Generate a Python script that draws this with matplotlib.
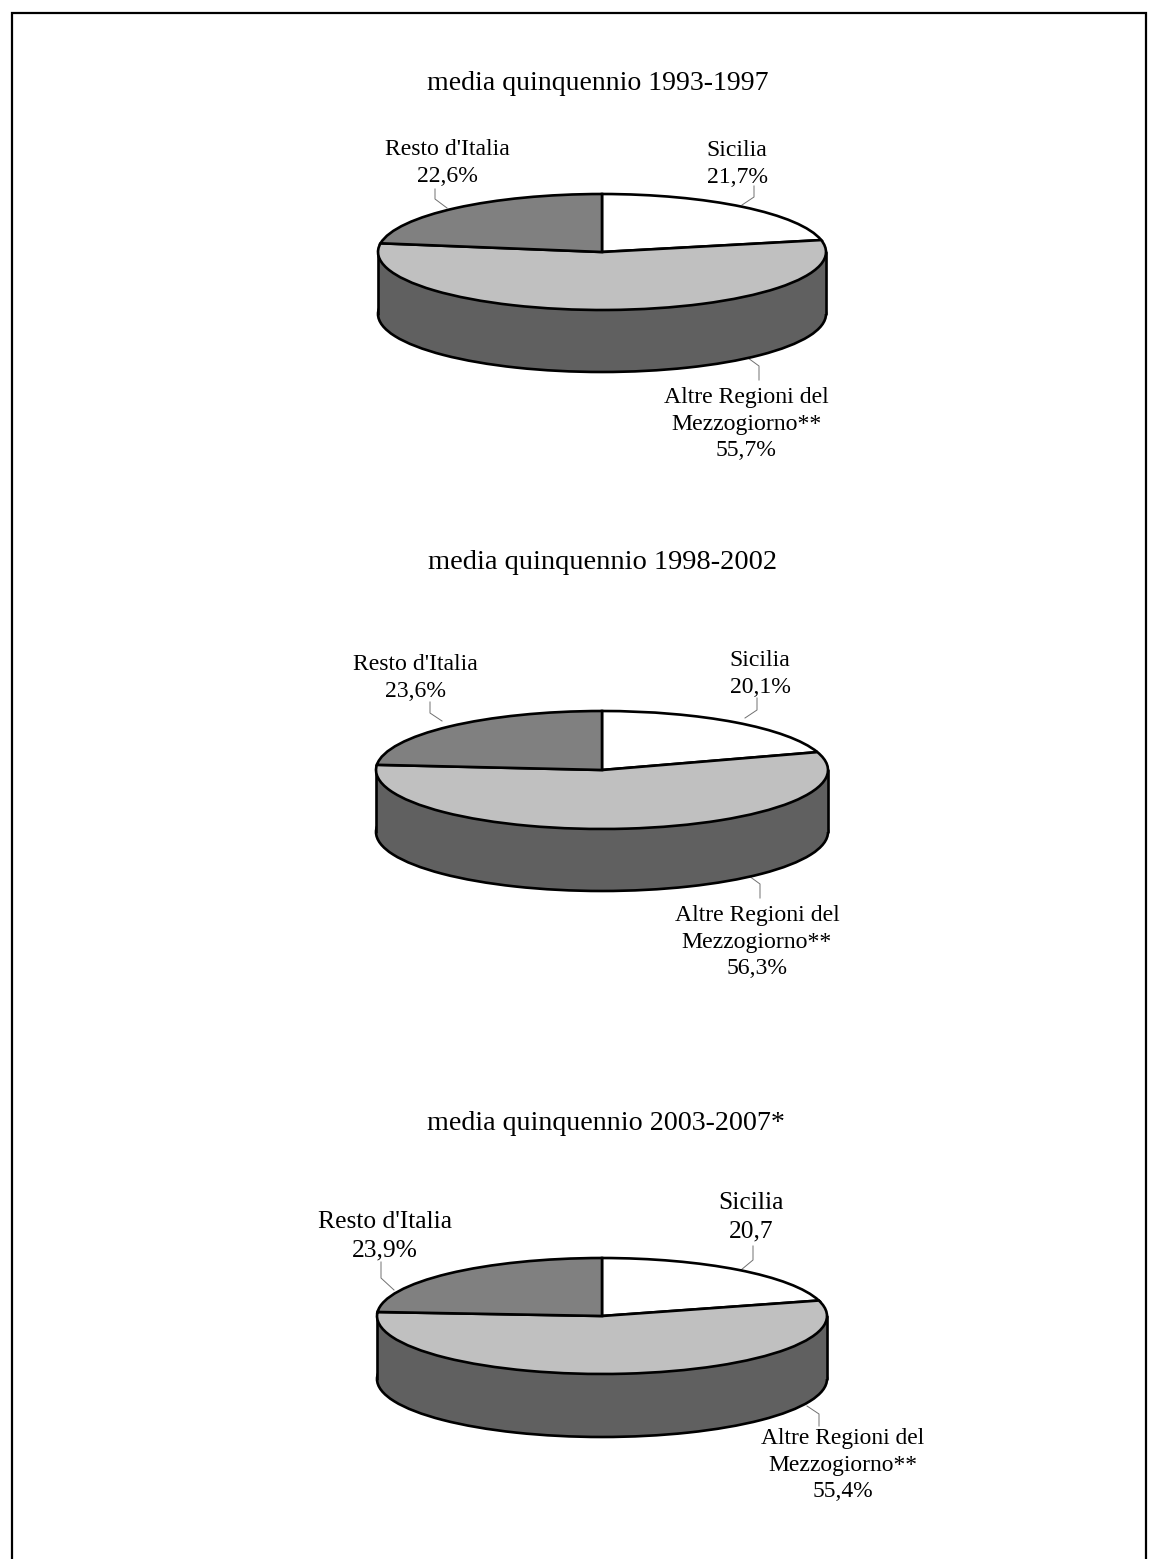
import matplotlib
matplotlib.use("Agg")
import matplotlib.pyplot as plt

plt.rcParams['font.family'] = ['Liberation Serif', 'DejaVu Serif']

W, H = 1158, 1559

# data
titles = ["media quinquennio 1993-1997", "media quinquennio 1998-2002", "media quinquennio 2003-2007*"]
sicilia = [21.7, 20.1, 20.7]
altre = [55.7, 56.3, 55.4]
resto = [22.6, 23.6, 23.9]
sicilia_labels = ["Sicilia\n21,7%", "Sicilia\n20,1%", "Sicilia\n20,7"]
altre_labels = ["Altre Regioni del\nMezzogiorno**\n55,7%", "Altre Regioni del\nMezzogiorno**\n56,3%", "Altre Regioni del\nMezzogiorno**\n55,4%"]
resto_labels = ["Resto d'Italia\n22,6%", "Resto d'Italia\n23,6%", "Resto d'Italia\n23,9%"]

slice_colors = ['#ffffff', '#c0c0c0', '#808080']
side_color = '#606060'
line_w = 1.9

# layout, in pixels of the page
pie_geom = [(602, 252, 224, 58, 62), (602, 770, 226, 59, 62), (602, 1316, 225, 58, 63)]
title_pos = [(598, 83), (603, 562), (606, 1123)]
title_fs = [20.0, 20.5, 20.2]
sic_pos = [(737, 164), (760, 674), (751, 1217)]
res_pos = [(447, 163), (415, 678), (385, 1236)]
alt_pos = [(746, 424), (757, 942), (843, 1465)]
sic_lead = [[(754, 186), (754, 197), (742, 205)], [(757, 698), (757, 710), (745, 718)], [(753, 1246), (753, 1260), (741, 1270)]]
res_lead = [[(435, 189), (435, 199), (447, 208)], [(430, 702), (430, 713), (442, 721)], [(381, 1262), (381, 1278), (394, 1290)]]
alt_lead = [[(759, 380), (759, 366), (748, 358)], [(760, 898), (760, 884), (749, 876)], [(819, 1426), (819, 1414), (807, 1406)]]
label_fs = [17.1, 17.1, 18.4]
altre_fs = [17.1, 17.1, 16.9]
spacing = 1.36

fig = plt.figure(figsize=(W / 100, H / 100), dpi=100, facecolor='white')

page = fig.add_axes([0, 0, 1, 1])
page.set_xlim(0, W)
page.set_ylim(H, 0)
page.axis('off')

# page frame
page.plot([12, 12, 1146, 1146], [H, 13, 13, H], color='black', lw=1.6, solid_joinstyle='miter', clip_on=False)

for i, (cx, cy, rx, ry, depth) in enumerate(pie_geom):
    d = depth / ry
    ax = fig.add_axes([(cx - rx) / W, 1 - (cy + ry + depth) / H, 2 * rx / W, (2 * ry + depth) / H])
    edge = dict(edgecolor='black', linewidth=line_w)
    # lower rim of the disc
    ax.pie([1], radius=1, center=(0, -d), colors=[side_color], wedgeprops=dict(linewidth=line_w, edgecolor='black'), frame=True)
    ax.fill_between([-1, 1], -d, 0, color=side_color, lw=0, zorder=1.5)
    ax.plot([-1, -1], [-d, 0], color='black', lw=line_w, zorder=1.6, clip_on=False, solid_capstyle='round')
    ax.plot([1, 1], [-d, 0], color='black', lw=line_w, zorder=1.6, clip_on=False, solid_capstyle='round')
    # top face
    wedges, _ = ax.pie([sicilia[i], altre[i], resto[i]], radius=1, startangle=90, counterclock=False,
                       colors=slice_colors, wedgeprops=edge, frame=True)
    for w in wedges:
        w.set_zorder(2)
    ax.set_aspect('auto')
    ax.set_xlim(-1, 1)
    ax.set_ylim(-1 - d, 1)
    ax.axis('off')

    page.text(*title_pos[i], titles[i], ha='center', va='center', fontsize=title_fs[i], color='black')
    s = label_fs[i]
    page.text(*sic_pos[i], sicilia_labels[i], ha='center', va='center', fontsize=s, linespacing=spacing)
    page.text(*res_pos[i], resto_labels[i], ha='center', va='center', fontsize=s, linespacing=spacing)
    page.text(*alt_pos[i], altre_labels[i], ha='center', va='center', fontsize=altre_fs[i], linespacing=spacing)
    for lead in (sic_lead[i], res_lead[i], alt_lead[i]):
        page.plot([p[0] for p in lead], [p[1] for p in lead], color='#707070', lw=0.7)

fig.savefig('out.png', dpi=100, facecolor='white')
